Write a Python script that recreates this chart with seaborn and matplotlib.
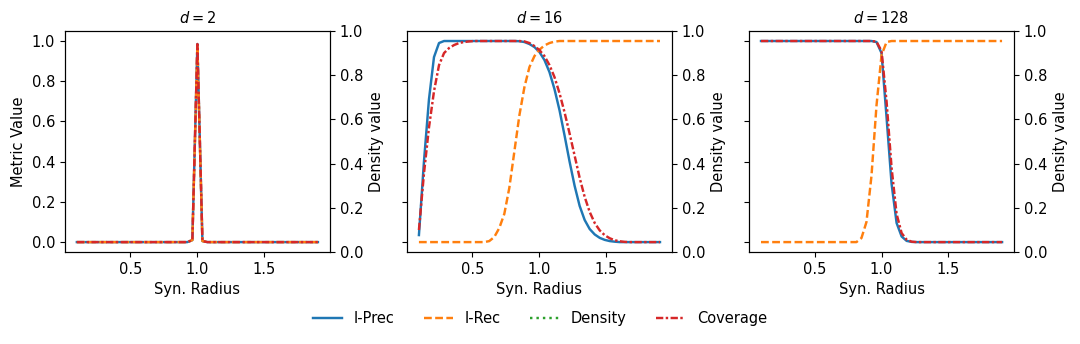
import numpy as np
import matplotlib
matplotlib.use("Agg")
import matplotlib.pyplot as plt
import seaborn as sns

plt.rcParams['font.size'] = 10.5

# synthetic radius grid (49 steps from 0.1 to 1.9)
radius = [0.1, 0.1375, 0.175, 0.2125, 0.25, 0.2875, 0.325, 0.3625, 0.4, 0.4375,
          0.475, 0.5125, 0.55, 0.5875, 0.625, 0.6625, 0.7, 0.7375, 0.775, 0.8125,
          0.85, 0.8875, 0.925, 0.9625, 1.0, 1.0375, 1.075, 1.1125, 1.15, 1.1875,
          1.225, 1.2625, 1.3, 1.3375, 1.375, 1.4125, 1.45, 1.4875, 1.525, 1.5625,
          1.6, 1.6375, 1.675, 1.7125, 1.75, 1.7875, 1.825, 1.8625, 1.9]

dims = [2, 16, 128]

# d = 2
prec_2 = [0.0] * 23 + [0.01, 0.985, 0.005] + [0.0] * 23
rec_2 = [0.0] * 23 + [0.01, 0.98, 0.005] + [0.0] * 23
cov_2 = [0.0] * 23 + [0.01, 0.985, 0.005] + [0.0] * 23

# d = 16
prec_16 = [0.035, 0.40, 0.71, 0.92, 0.99, 1.0, 1.0, 1.0, 1.0, 1.0,
           1.0, 1.0, 1.0, 1.0, 1.0, 1.0, 1.0, 1.0, 1.0, 1.0,
           0.999, 0.995, 0.985, 0.97, 0.945, 0.905, 0.845, 0.76, 0.655, 0.53,
           0.40, 0.28, 0.18, 0.11, 0.065, 0.038, 0.021, 0.011, 0.005, 0.002,
           0.0, 0.0, 0.0, 0.0, 0.0, 0.0, 0.0, 0.0, 0.0]
rec_16 = [0.0, 0.0, 0.0, 0.0, 0.0, 0.0, 0.0, 0.0, 0.0, 0.0,
          0.0, 0.0, 0.0, 0.0, 0.005, 0.025, 0.07, 0.14, 0.27, 0.45,
          0.63, 0.77, 0.87, 0.925, 0.957, 0.978, 0.99, 0.997, 1.0, 1.0,
          1.0, 1.0, 1.0, 1.0, 1.0, 1.0, 1.0, 1.0, 1.0, 1.0,
          1.0, 1.0, 1.0, 1.0, 1.0, 1.0, 1.0, 1.0, 1.0]
cov_16 = [0.06, 0.34, 0.57, 0.75, 0.88, 0.94, 0.965, 0.98, 0.99, 0.995,
          0.998, 1.0, 1.0, 1.0, 1.0, 1.0, 1.0, 1.0, 1.0, 1.0,
          1.0, 0.998, 0.99, 0.975, 0.955, 0.925, 0.88, 0.82, 0.74, 0.645,
          0.54, 0.43, 0.32, 0.225, 0.15, 0.095, 0.058, 0.034, 0.019, 0.009,
          0.004, 0.001, 0.0, 0.0, 0.0, 0.0, 0.0, 0.0, 0.0]

# d = 128
prec_128 = [1.0] * 23 + [0.995, 0.94, 0.62, 0.29, 0.095, 0.028, 0.006, 0.001] + [0.0] * 18
rec_128 = [0.0] * 20 + [0.02, 0.1, 0.33, 0.68, 0.93, 0.995] + [1.0] * 23
cov_128 = [1.0] * 23 + [0.997, 0.95, 0.70, 0.37, 0.14, 0.045, 0.012, 0.002] + [0.0] * 18

# density curve gives no visible values in the chart
density_none = [np.nan] * len(radius)

prec = [prec_2, prec_16, prec_128]
rec = [rec_2, rec_16, rec_128]
cov = [cov_2, cov_16, cov_128]

fig, axes = plt.subplots(1, 3, figsize=(10.8, 3.44), dpi=100, sharey=True)

lw = 1.75
for i, ax in enumerate(axes):
    sns.lineplot(x=radius, y=prec[i], ax=ax, color='C0', linestyle='-', linewidth=lw,
                 label='I-Prec', legend=False)
    sns.lineplot(x=radius, y=rec[i], ax=ax, color='C1', dashes=False, linewidth=lw,
                 linestyle=(0, (3.2, 1.4)), label='I-Rec', legend=False)
    ax.plot(radius, density_none, color='C2', linestyle=':', linewidth=lw, label='Density')
    sns.lineplot(x=radius, y=cov[i], ax=ax, color='C3', linestyle=(0, (3, 1, 1, 1)),
                 linewidth=lw, label='Coverage', legend=False)
    ax.set_title(f'$d = {dims[i]}$', fontsize=10.5)
    ax.set_xlabel('Syn. Radius')
    ax.set_xticks([0.5, 1.0, 1.5])
    ax2 = ax.twinx()
    ax2.set_ylim(0, 1)
    ax2.set_ylabel('Density value')

axes[0].set_ylabel('Metric Value')

handles, labels = axes[0].get_legend_handles_labels()
fig.legend(handles, labels, loc='lower center', ncol=4, frameon=False,
           bbox_to_anchor=(0.5, 0.015))

plt.subplots_adjust(left=0.060, right=0.939, top=0.910, bottom=0.267, wspace=0.29)
plt.savefig('out.png')
